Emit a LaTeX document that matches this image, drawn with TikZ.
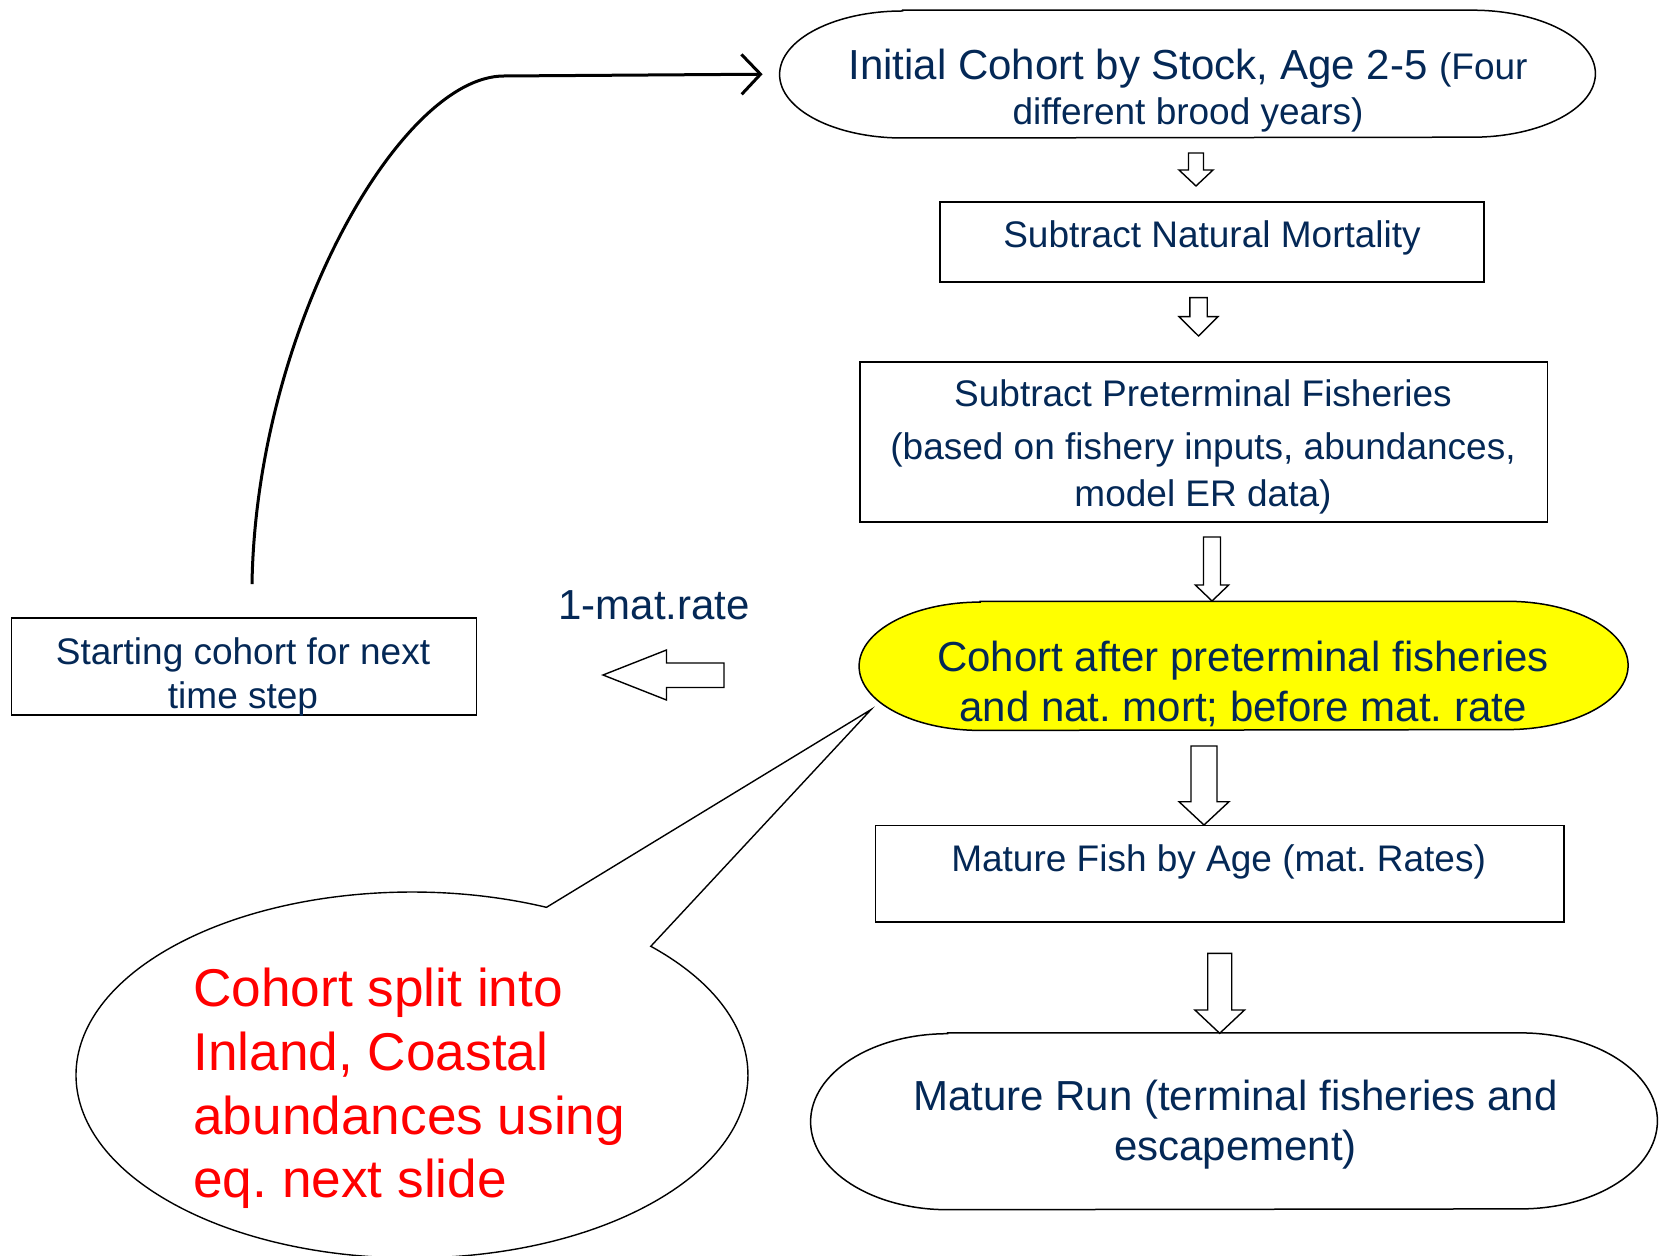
\documentclass[tikz,border=0pt]{standalone}
\usepackage{fontspec}
\setmainfont{Liberation Sans}
\usetikzlibrary{arrows.meta,calc}

\definecolor{navy}{RGB}{4,40,86}
\definecolor{hilite}{RGB}{255,255,0}

% one drawing unit = 0.5pt
\newcommand\pxu{0.5pt}

% stadium outline with elliptical ends around a placeholder node
\newcommand\stadium[4]{%
  \draw[#4] ($(#1.north west)+(#2,0)$) -- ($(#1.north east)+(-#2,0)$)
    arc[start angle=-90,end angle=90,x radius=#2,y radius=#3]
    -- ($(#1.south west)+(#2,0)$)
    arc[start angle=90,end angle=270,x radius=#2,y radius=#3] -- cycle;}

% hollow block arrow pointing down: centre x, top, head start, tip, shaft half, head half
\newcommand\downblock[6]{%
  \draw[blockarrow] (#1-#5,#2) -- (#1+#5,#2) -- (#1+#5,#3) -- (#1+#6,#3)
    -- (#1,#4) -- (#1-#6,#3) -- (#1-#5,#3) -- cycle;}

\frenchspacing

\begin{document}
\begin{tikzpicture}[x=0.5pt,y=-0.5pt,
  holder/.style={rectangle,inner sep=0pt,draw=none},
  boxnode/.style={rectangle,inner sep=0pt,draw=black,line width=0.85pt},
  blockarrow/.style={draw=black,fill=white,line width=0.7pt,line join=miter},
  outline/.style={draw=black,line width=0.75pt},
  txt/.style={inner sep=0pt,text=navy,anchor=base,font=\fontsize{18.5}{22}\selectfont},
  bigtxt/.style={txt,font=\fontsize{21}{25}\selectfont},
  redtxt/.style={inner sep=0pt,text=red,anchor=base west,font=\fontsize{26.6}{32}\selectfont},
  loopline/.style={draw=black,line width=1.5pt,-{Straight Barb[length=9.5pt,width=20pt,line width=1.5pt]}}
]
\useasboundingbox (0,0) rectangle (1660,1256);

% ---- shapes ----
\node[holder,minimum width=815*\pxu,minimum height=127*\pxu] (init) at (1187.5,74.1) {};
\stadium{init}{123}{63.5}{outline}

\node[boxnode,minimum width=544*\pxu,minimum height=80*\pxu] (subnat) at (1212,241.7) {};
\node[boxnode,minimum width=687.5*\pxu,minimum height=160*\pxu] (preterm) at (1203.75,441.7) {};

\node[holder,minimum width=768.2*\pxu,minimum height=128.3*\pxu] (cohort) at (1243.6,665.85) {};
\stadium{cohort}{121}{64.15}{outline,fill=hilite}

\node[boxnode,minimum width=688.6*\pxu,minimum height=96.2*\pxu] (matfish) at (1219.7,873.6) {};

\node[holder,minimum width=846*\pxu,minimum height=176*\pxu] (run) at (1234,1121.3) {};
\stadium{run}{137}{88}{outline}

\node[boxnode,minimum width=465*\pxu,minimum height=97*\pxu] (start) at (244,666.5) {};

% ---- speech bubble ----
\coordinate (ptip) at (871,709.6);
\draw[outline,line width=0.7pt,fill=white] (650.8,946.3)
  arc[start angle=-44.7,end angle=293.6,x radius=336,y radius=183] -- (ptip) -- cycle;

% ---- block arrows ----
\downblock{1196}{153}{170}{186}{7.5}{17}
\downblock{1198.5}{297.7}{316.7}{336}{8.7}{19.5}
\downblock{1212}{537}{585}{601}{8.5}{16.7}
\downblock{1204}{746}{801.7}{825}{13}{25}
\downblock{1219.7}{953.3}{1010}{1033.3}{12}{24.8}
\draw[blockarrow] (724,663) -- (666.5,663) -- (666.5,650) -- (603,675)
  -- (666.5,700) -- (666.5,687.5) -- (724,687.5) -- cycle;

% ---- loop back to the initial cohort ----
\draw[loopline,shorten >=8.5pt] ([shift={(8,-33)}]start.north)
  .. controls (256,330) and (400,76) .. (504,76) -- (init.west);

% ---- texts ----
\node[bigtxt] (initA) at (1188,80) {Initial Cohort by Stock, Age 2-5 {\fontsize{18.5}{22}\selectfont(Four}};
\node[txt] (initB) at (1188,125) {different brood years)};

\node[txt] (subnatT) at (1212,248) {Subtract Natural Mortality};

\node[txt] (pretA) at (1203,406.7) {Subtract Preterminal Fisheries};
\node[txt] (pretB) at (1203,460) {(based on fishery inputs, abundances,};
\node[txt] (pretC) at (1203,506.7) {model ER data)};

\node[bigtxt] (cohA) at (1243,671.7) {Cohort after preterminal fisheries};
\node[bigtxt] (cohB) at (1243,721.7) {and nat. mort; before mat. rate};

\node[bigtxt,anchor=base west] (matrate) at (558,620) {1-mat.rate};

\node[txt] (startA) at (243,665) {Starting cohort for next};
\node[txt] (startB) at (243,708.7) {time step};

\node[txt] (matfishT) at (1218.6,871.7) {Mature Fish by Age (mat. Rates)};

\node[bigtxt] (runA) at (1235.4,1110) {Mature Run (terminal fisheries and};
\node[bigtxt] (runB) at (1235.4,1160) {escapement)};

\node[redtxt] (splitA) at (193,1006) {Cohort split into};
\node[redtxt] (splitB) at (193,1070.5) {Inland, Coastal};
\node[redtxt] (splitC) at (193,1134) {abundances using};
\node[redtxt] (splitD) at (193,1197.5) {eq. next slide};
\end{tikzpicture}
\end{document}
